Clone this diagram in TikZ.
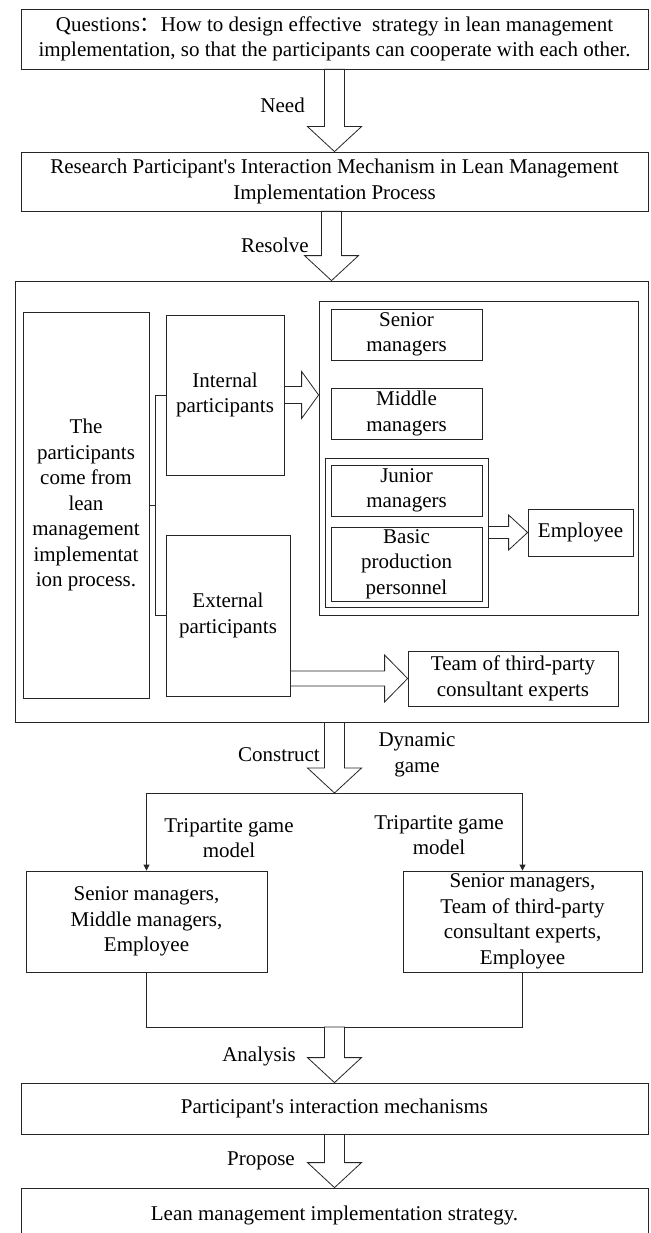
\documentclass[tikz,border=0pt]{standalone}
\usepackage{fontspec}
\setmainfont{Liberation Serif}[Ligatures=TeXOff]
\newfontfamily\cjk{Noto Sans CJK SC}
\usetikzlibrary{calc,arrows.meta}

\tikzset{
  box/.style={draw=black!85, line width=0.8pt, align=center, inner sep=0pt,
    font=\fontsize{21}{25.5}\selectfont},
  lbl/.style={align=center, inner sep=0pt, font=\fontsize{21}{25.5}\selectfont},
  hollow/.style={draw=black!85, line width=0.8pt, fill=white, line join=miter},
  wire/.style={draw=black!85, line width=0.8pt},
  feed/.style={wire, -{Triangle[length=6pt,width=6pt]}}
}

% hollow block arrow pointing down: from #1 to #2
\newcommand{\vfat}[2]{%
  \draw[hollow] let \p1=(#1), \p2=(#2) in
    (\x2-10pt,\y1) -- (\x2-10pt,\y2+25pt) -- (\x2-27pt,\y2+25pt) -- (\x2,\y2)
    -- (\x2+27pt,\y2+25pt) -- (\x2+10pt,\y2+25pt) -- (\x2+10pt,\y1) -- cycle;}
% hollow block arrow pointing right: from, to, half shaft, half head, head length
\newcommand{\hfat}[5]{%
  \draw[hollow] let \p1=(#1), \p2=(#2) in
    (\x1,\y2+#3) -- (\x2-#5,\y2+#3) -- (\x2-#5,\y2+#4) -- (\x2,\y2)
    -- (\x2-#5,\y2-#4) -- (\x2-#5,\y2-#3) -- (\x1,\y2-#3) -- cycle;}

\begin{document}
\begin{tikzpicture}[x=1pt,y=-1pt]
\useasboundingbox (0,0) rectangle (650,1233);
\clip (0,0) rectangle (650,1233);

% question and research
\node[box, minimum width=627, minimum height=60] (quest) at (334.5,39)
  {Questions{\cjk ：}How to design effective~ strategy in lean management\\implementation, so that the participants can cooperate with each other.};
\node[box, minimum width=627, minimum height=59] (research) at (334.5,181.5)
  {Research Participant's Interaction Mechanism in Lean Management\\Implementation Process};
\vfat{quest.south}{research.north}
\node[lbl, anchor=east] (need) at (305,105) {Need};

% participants
\node[box, minimum width=633, minimum height=441] (outer) at (331.5,501.5) {};
\vfat{research.south}{outer.north}
\node[lbl, anchor=east] (resolve) at (309,245) {Resolve};

\node[box, minimum width=126, minimum height=386] (origin) at (86,505)
  {The\\participants\\come from\\lean\\management\\implementat\\ion process.};
\node[box, minimum width=118, minimum height=160] (inner) at (225,395) {Internal\\participants};
\node[box, minimum width=124, minimum height=161] (outside) at (228,615.5) {External\\participants};
\coordinate (brk) at ($(inner.west)+(-10,0)$);
\draw[wire] (inner.west) -- (brk) |- (outside.west);
\draw[wire] (origin.east) -- (origin.east -| brk);

\node[box, minimum width=319, minimum height=314] (rcont) at (478.5,458) {};
\node[box, minimum width=151, minimum height=51] (senior) at (406.5,334.5) {Senior\\managers};
\node[box, minimum width=151, minimum height=51] (middle) at (406.5,413.5) {Middle\\managers};
\node[box, minimum width=163, minimum height=149] (grp) at (406.5,532.5) {};
\node[box, minimum width=151, minimum height=51] (junior) at (406.5,490.5) {Junior\\managers};
\node[box, minimum width=151, minimum height=74] (basic) at (406.5,564) {Basic\\production\\personnel};
\node[box, minimum width=105, minimum height=47] (emp) at (580.5,532.5) {Employee};
\node[box, minimum width=210, minimum height=55] (team) at (513,678.5) {Team of third-party\\consultant experts};

\hfat{inner.east}{rcont.west |- inner.east}{8.5pt}{23.5pt}{17pt}
\hfat{grp.east |- emp.west}{emp.west}{6pt}{17.5pt}{19pt}
\hfat{outside.east |- team.west}{team.west}{7.5pt}{23.5pt}{23pt}

% games
\coordinate (split) at (334.5,793);
\vfat{outer.south}{split}
\node[lbl, anchor=east] (construct) at (320,755) {Construct};
\node[lbl] (dyn) at (417,755) {Dynamic\\game};

\node[box, minimum width=241, minimum height=101] (gameA) at (146.5,921.5)
  {Senior managers,\\Middle managers,\\Employee};
\node[box, minimum width=239, minimum height=101] (gameB) at (522.5,921.5)
  {Senior managers,\\Team of third-party\\consultant experts,\\Employee};
\draw[feed] (split) -| (gameA.north);
\draw[feed] (split) -| (gameB.north);
\node[lbl] (triA) at (229,838) {Tripartite game\\model};
\node[lbl] (triB) at (439,835) {Tripartite game\\model};

% results
\coordinate (join) at (334.5,1027);
\draw[wire] (gameA.south) |- (join) -| (gameB.south);
\node[box, minimum width=627, minimum height=51] (mech) at (334.5,1108.5)
  {Participant's interaction mechanisms};
\vfat{join}{mech.north}
\node[lbl, anchor=east] (analysis) at (296,1056) {Analysis};
\node[box, minimum width=627, minimum height=54] (strategy) at (334.5,1215)
  {Lean management implementation strategy.};
\vfat{mech.south}{strategy.north}
\node[lbl, anchor=east] (propose) at (295,1161) {Propose};
\end{tikzpicture}
\end{document}
